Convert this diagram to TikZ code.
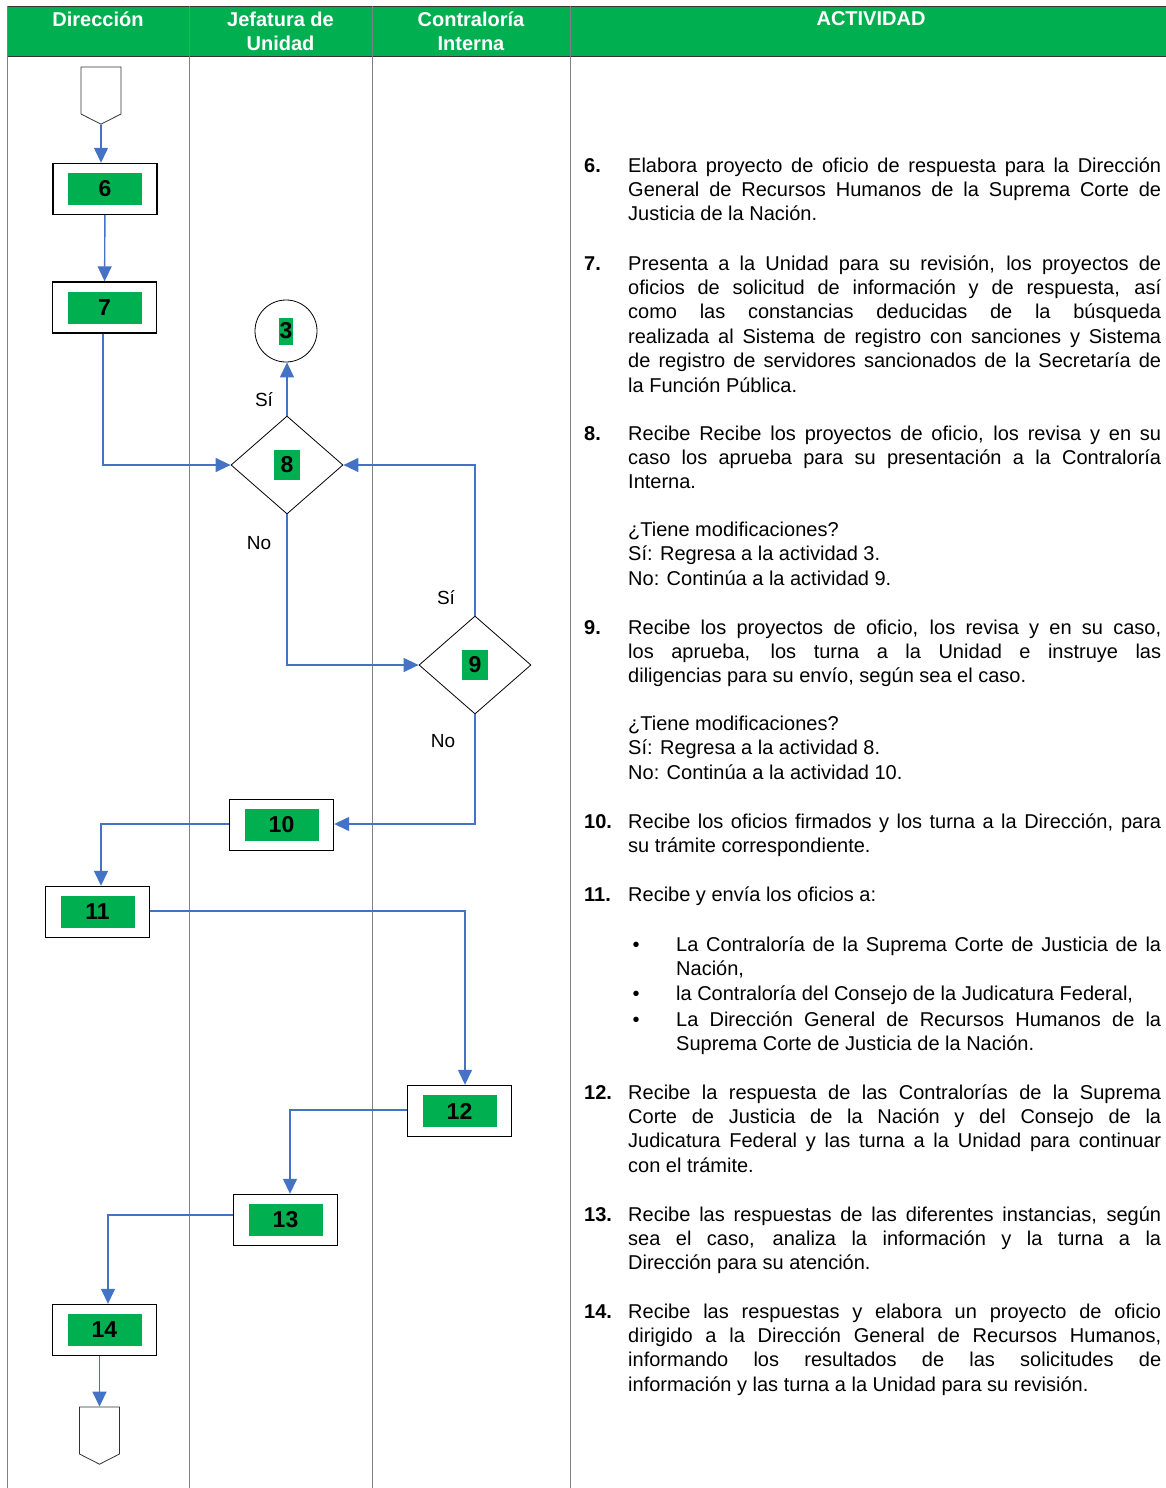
\documentclass[tikz,border=0pt]{standalone}
\usepackage{fontspec}
\setmainfont{Liberation Sans}
\usetikzlibrary{arrows.meta,shapes.geometric,shapes.symbols}
\definecolor{verde}{HTML}{00B050}
\definecolor{azul}{HTML}{4472C4}
\definecolor{rejilla}{HTML}{808080}
\newcommand\cuerpo{\fontsize{20}{24.4}\selectfont}
\newcommand\cifra{\fontsize{23}{28}\selectfont\bfseries}
\begin{document}
\begin{tikzpicture}[x=1pt,y=-1pt,
  flow/.style={draw=azul,line width=1.4pt,-{Triangle[width=14pt,length=15pt]}},
  stepbox/.style={draw,line width=1.4pt,minimum width=104,minimum height=51,inner sep=0pt,fill=white},
  tag/.style={fill=verde,minimum width=74,minimum height=32,inner sep=0pt,font=\cifra},
  dtag/.style={fill=verde,minimum width=26,minimum height=30,inner sep=0pt,font=\cifra},
  decision/.style={diamond,draw,line width=0.8pt,minimum width=112,minimum height=98,inner sep=0pt},
  conector/.style={circle,draw,line width=0.8pt,minimum size=62,inner sep=0pt},
  pagina/.style={signal,signal to=south,signal from=nowhere,signal pointer angle=126,
    draw=black!80,line width=0.8pt,minimum width=40,minimum height=47,inner sep=0pt},
  head/.style={text=white,font=\fontsize{20}{24}\selectfont\bfseries,align=center,inner sep=0pt},
  num/.style={anchor=base west,inner sep=0pt,font=\cuerpo\bfseries},
  txt/.style={anchor=base west,inner sep=0pt,text width=533pt,align=justify,font=\cuerpo},
  nota/.style={anchor=base west,inner sep=0pt,align=left,font=\cuerpo},
  rotulo/.style={inner sep=0pt,font=\fontsize{19}{23}\selectfont}]
\useasboundingbox (0,0) rectangle (1166,1488);

% encabezado
\fill[verde] (7,6) rectangle (1166,56);
\draw[black!80,line width=0.8pt] (7,6) -- (1166,6) (7,56) -- (1166,56);
\draw[rejilla,line width=1pt] (7,6) -- (7,1488);
\foreach \x in {189,372,570}
  \draw[rejilla,line width=1pt] (\x,6) -- (\x,1488);
\node[head] (h1) at (98,19) {Dirección};
\node[head] (h2) at (280.5,31) {Jefatura de\\Unidad};
\node[head] (h3) at (471,31) {Contraloría\\Interna};
\node[head] (h4) at (871,19) {ACTIVIDAD};

% diagrama
\node[pagina] (ini) at (101,90.5) {};
\node[stepbox] (b6) at (105,189) {};
\node[tag] (t6) at (b6) {6};
\node[stepbox] (b7) at (104.5,307.5) {};
\node[tag] (t7) at (b7) {7};
\node[conector] (c3) at (286,331) {};
\node[fill=verde,minimum width=14,minimum height=27,inner sep=0pt,font=\cifra] (t3) at (c3) {3};
\node[decision] (d8) at (287,465) {};
\node[dtag] (t8) at (d8) {8};
\node[decision] (d9) at (475,665) {};
\node[dtag] (t9) at (d9) {9};
\node[stepbox] (b10) at (281.5,825) {};
\node[tag] (t10) at (b10) {10};
\node[stepbox] (b11) at (97.5,912) {};
\node[tag] (t11) at (b11) {11};
\node[stepbox] (b12) at (459.5,1111) {};
\node[tag] (t12) at (b12) {12};
\node[stepbox] (b13) at (285.5,1220) {};
\node[tag] (t13) at (b13) {13};
\node[stepbox] (b14) at (104.5,1330) {};
\node[tag] (t14) at (b14) {14};
\node[pagina] (fin) at (99.5,1430.5) {};

\draw[flow] (ini.south) -- (ini.south |- b6.north);
\draw[flow] (b6) -- (b7);
\draw[flow] ([xshift=-1.5]b7.south) |- (d8.west);
\draw[flow] (d8.north) -- (d8.north |- c3.south);
\draw[flow] (d8.south) |- (d9.west);
\draw[flow] (d9.north) |- (d8.east);
\draw[flow] (d9.south) |- ([yshift=1]b10.east);
\draw[flow] ([yshift=1]b10.west) -| ([xshift=3.5]b11.north);
\draw[flow] ([yshift=1]b11.east) -| ([xshift=5.5]b12.north);
\draw[flow] ([yshift=1]b12.west) -| ([xshift=4.5]b13.north);
\draw[flow] ([yshift=5]b13.west) -| ([xshift=3.5]b14.north);
\draw[flow] (b14.south -| fin.north) -- (fin.north);

\node[rotulo] (si8) at (264,400) {Sí};
\node[rotulo] (no8) at (259,543) {No};
\node[rotulo] (si9) at (446,598) {Sí};
\node[rotulo] (no9) at (443,741) {No};

% actividades
\node[num] (n6) at (584,172) {6.};
\node[txt] (a6) at (628,172) {Elabora proyecto de oficio de respuesta para la Dirección\linebreak General de Recursos Humanos de la Suprema Corte de\linebreak Justicia de la Nación.};
\node[num] (n7) at (584,270) {7.};
\node[txt] (a7) at (628,270) {Presenta a la Unidad para su revisión, los proyectos de\linebreak oficios de solicitud de información y de respuesta, así\linebreak como las constancias deducidas de la búsqueda\linebreak realizada al Sistema de registro con sanciones y Sistema\linebreak de registro de servidores sancionados de la Secretaría de\linebreak la Función Pública.};
\node[num] (n8) at (584,440) {8.};
\node[txt] (a8) at (628,440) {Recibe Recibe los proyectos de oficio, los revisa y en su\linebreak caso los aprueba para su presentación a la Contraloría\linebreak Interna.};
\node[nota] (q8) at (628,585) {¿Tiene modificaciones?\\Sí: Regresa a la actividad 3.\\No: Continúa a la actividad 9.};
\node[num] (n9) at (584,634) {9.};
\node[txt] (a9) at (628,634) {Recibe los proyectos de oficio, los revisa y en su caso,\linebreak los aprueba, los turna a la Unidad e instruye las\linebreak diligencias para su envío, según sea el caso.};
\node[nota] (q9) at (628,779) {¿Tiene modificaciones?\\Sí: Regresa a la actividad 8.\\No: Continúa a la actividad 10.};
\node[num] (n10) at (584,828) {10.};
\node[txt] (a10) at (628,828) {Recibe los oficios firmados y los turna a la Dirección, para\linebreak su trámite correspondiente.};
\node[num] (n11) at (584,901) {11.};
\node[txt] (a11) at (628,901) {Recibe y envía los oficios a:};
\foreach \y/\n in {951/1,1000/2,1026/3}
  \node[anchor=base,inner sep=0pt,font=\cuerpo] (p\n) at (636,\y) {•};
\node[txt,text width=485pt] (v1) at (676,951) {La Contraloría de la Suprema Corte de Justicia de la\linebreak Nación,};
\node[txt,text width=485pt] (v2) at (676,1000) {la Contraloría del Consejo de la Judicatura Federal,};
\node[txt,text width=485pt] (v3) at (676,1026) {La Dirección General de Recursos Humanos de la\linebreak Suprema Corte de Justicia de la Nación.};
\node[num] (n12) at (584,1099) {12.};
\node[txt] (a12) at (628,1099) {Recibe la respuesta de las Contralorías de la Suprema\linebreak Corte de Justicia de la Nación y del Consejo de la\linebreak Judicatura Federal y las turna a la Unidad para continuar\linebreak con el trámite.};
\node[num] (n13) at (584,1221) {13.};
\node[txt] (a13) at (628,1221) {Recibe las respuestas de las diferentes instancias, según\linebreak sea el caso, analiza la información y la turna a la\linebreak Dirección para su atención.};
\node[num] (n14) at (584,1318) {14.};
\node[txt] (a14) at (628,1318) {Recibe las respuestas y elabora un proyecto de oficio\linebreak dirigido a la Dirección General de Recursos Humanos,\linebreak informando los resultados de las solicitudes de\linebreak información y las turna a la Unidad para su revisión.};
\end{tikzpicture}
\end{document}
